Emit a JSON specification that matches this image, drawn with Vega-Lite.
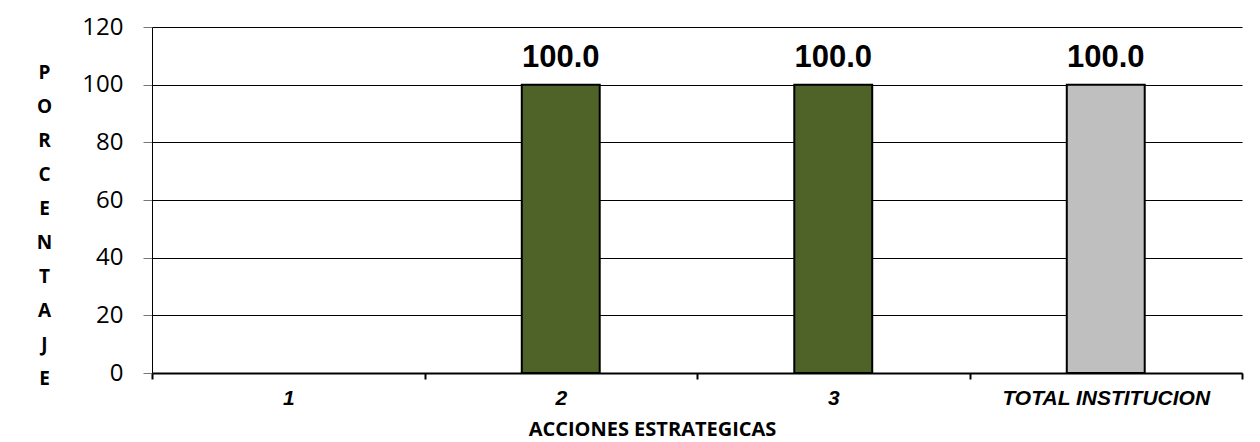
{
  "$schema": "https://vega.github.io/schema/vega-lite/v6.json",
  "width": 1090,
  "height": 346,
  "autosize": "none",
  "padding": {"left": 152, "top": 27, "right": 18, "bottom": 69},
  "background": "white",
  "config": {"view": {"stroke": null}},
  "data": {
    "values": [
      {"accion": "1", "porcentaje": null, "tipo": "accion"},
      {"accion": "2", "porcentaje": 100.0, "tipo": "accion"},
      {"accion": "3", "porcentaje": 100.0, "tipo": "accion"},
      {"accion": "TOTAL INSTITUCION", "porcentaje": 100.0, "tipo": "total"}
    ]
  },
  "encoding": {
    "x": {
      "field": "accion",
      "type": "nominal",
      "sort": null,
      "scale": {"domain": ["1", "2", "3", "TOTAL INSTITUCION"], "paddingInner": 0, "paddingOuter": 0},
      "axis": {
        "title": "ACCIONES ESTRATEGICAS",
        "titleFont": "Open Sans",
        "titleFontWeight": "bold",
        "titleFontSize": 20,
        "titleColor": "black",
        "titleX": 500,
        "titleY": 62,
        "titleBaseline": "alphabetic",
        "titleAnchor": null,
        "titleAlign": "center",
        "tickBand": "extent",
        "labelAngle": 0,
        "labelLimit": 0,
        "labelFont": "Arial, Liberation Sans, sans-serif",
        "labelFontStyle": "italic",
        "labelFontWeight": "bold",
        "labelFontSize": 21,
        "labelColor": "black",
        "labelPadding": 8,
        "domainColor": "black",
        "domainWidth": 2,
        "tickColor": "black",
        "tickWidth": 2,
        "tickSize": 6,
        "grid": false
      }
    }
  },
  "layer": [
    {
      "mark": {"type": "bar", "width": {"band": 0.286}, "stroke": "black", "strokeWidth": 2},
      "encoding": {
        "y": {
          "field": "porcentaje",
          "type": "quantitative",
          "scale": {"domain": [0, 120], "nice": false},
          "axis": {
            "values": [0, 20, 40, 60, 80, 100, 120],
            "title": ["P", "O", "R", "C", "E", "N", "T", "A", "J", "E"],
            "titleAngle": 0,
            "titleLineHeight": 34,
            "titleFont": "Open Sans",
            "titleFontWeight": "bold",
            "titleFontSize": 19,
            "titleColor": "black",
            "titleAlign": "center",
            "titleBaseline": "top",
            "titleX": -108,
            "titleY": 36,
            "titleAnchor": null,
            "labelFont": "Open Sans",
            "labelFontSize": 24,
            "labelColor": "black",
            "labelPadding": 20,
            "grid": true,
            "gridColor": "black",
            "gridWidth": 1,
            "domainColor": "black",
            "domainWidth": 1,
            "tickColor": "#777",
            "tickSize": 9
          }
        },
        "color": {
          "field": "tipo",
          "type": "nominal",
          "scale": {"domain": ["accion", "total"], "range": ["#4F6228", "#BFBFBF"]},
          "legend": null
        }
      }
    },
    {
      "mark": {"type": "text", "dy": -18, "baseline": "alphabetic", "font": "Arial, Liberation Sans, sans-serif", "fontWeight": "bold", "fontSize": 31, "color": "black"},
      "encoding": {
        "y": {"field": "porcentaje", "type": "quantitative"},
        "text": {"field": "porcentaje", "type": "quantitative", "format": ".1f"}
      }
    }
  ]
}
